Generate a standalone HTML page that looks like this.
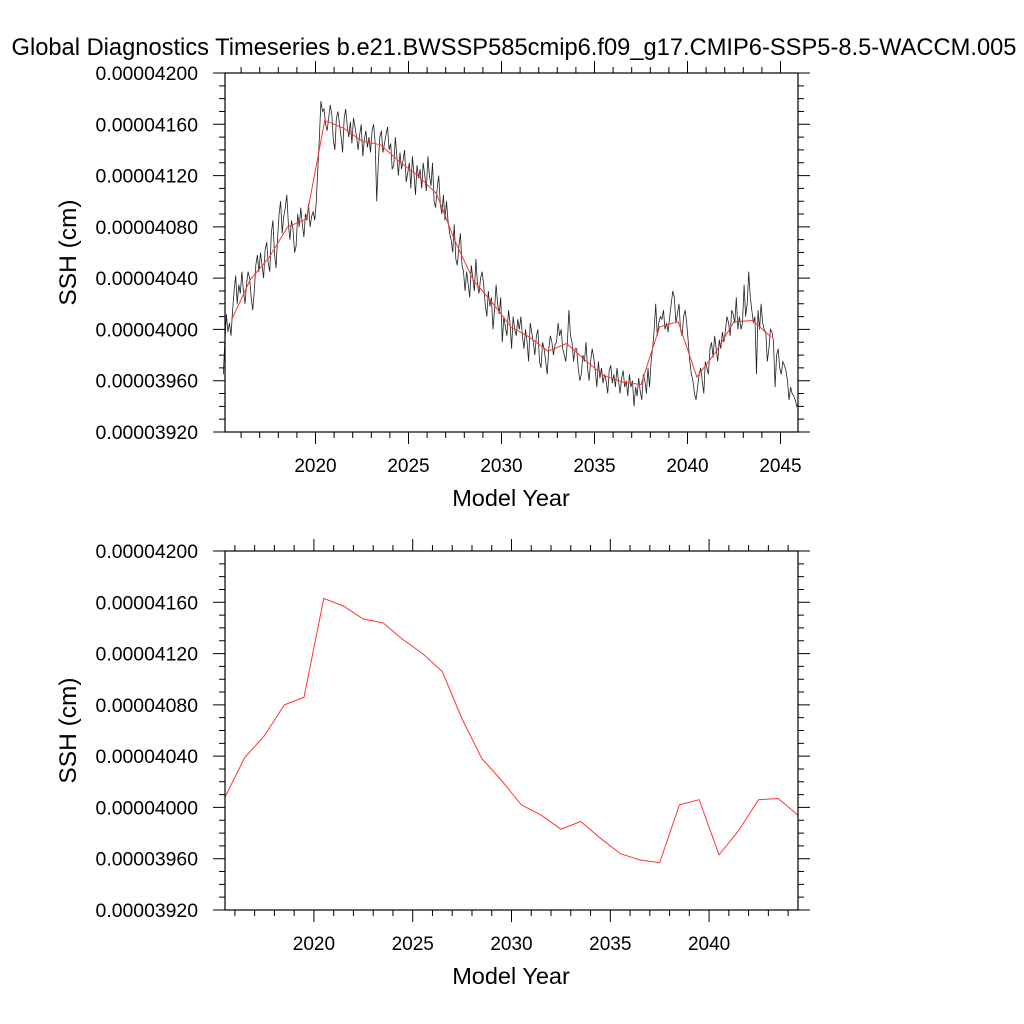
<!DOCTYPE html>
<html><head><meta charset="utf-8"><style>
html,body{margin:0;padding:0;background:#fff;}
svg{display:block;font-family:"Liberation Sans",Arial,sans-serif;}
</style></head><body>
<svg id="c" width="1024" height="1024" viewBox="0 0 1024 1024">
<text x="514" y="55" text-anchor="middle" font-size="23.7">Global Diagnostics Timeseries b.e21.BWSSP585cmip6.f09_g17.CMIP6-SSP5-8.5-WACCM.005</text>
</svg>
<script>
const annualYears = [];
for (let y = 2015; y <= 2044; y++) annualYears.push(y + 0.5);
const annualValues = [4008,4039,4056,4080,4086,4163,4157,4147,4144,4131,4120,4106,4069,4038,4021,4002,3994,3983,3989,3976,3964,3959,3957,4002,4006,3963,3982,4006,4007,3994];
const monthlyValues = [
3965,3990,4012,3998,4005,3995,4015,4030,4042,4020,4035,4028,
4045,4030,4020,4035,4045,4040,4025,4015,4030,4050,4058,4045,
4060,4050,4040,4062,4068,4052,4045,4075,4085,4060,4048,4070,
4090,4100,4075,4088,4095,4105,4082,4070,4085,4078,4060,4065,
4090,4080,4095,4082,4072,4090,4085,4098,4080,4088,4092,4085,
4100,4125,4150,4178,4170,4172,4160,4155,4165,4175,4168,4148,
4140,4165,4170,4160,4150,4138,4165,4172,4158,4150,4162,4145,
4165,4158,4150,4140,4152,4160,4135,4148,4155,4142,4150,4138,
4155,4160,4145,4100,4130,4150,4155,4138,4145,4152,4158,4140,
4145,4125,4128,4150,4135,4120,4138,4125,4132,4140,4115,4122,
4130,4110,4135,4122,4105,4128,4118,4125,4110,4130,4120,4108,
4135,4120,4112,4130,4100,4095,4110,4120,4098,4090,4105,4085,
4100,4085,4075,4070,4060,4082,4055,4050,4065,4075,4050,4045,
4030,4045,4035,4025,4050,4040,4030,4055,4035,4028,4040,4045,
4035,4020,4010,4030,4018,4025,4000,4015,4035,4020,4012,4025,
3990,4010,4002,3995,4015,4005,3985,4010,4000,3995,4008,4000,
4010,3995,3985,4000,3990,3975,4005,3998,3990,3980,3995,4000,
3975,3970,3990,3985,3975,3965,3985,3995,3990,3980,3988,3990,
4005,3995,4000,3985,3980,3975,3990,4015,3995,3990,3975,3985,
3985,3970,3960,3965,3980,3975,3990,3970,3960,3975,3985,3978,
3968,3955,3975,3962,3970,3958,3965,3960,3950,3968,3972,3958,
3965,3955,3970,3960,3950,3962,3968,3955,3960,3948,3965,3955,
3960,3940,3955,3948,3962,3952,3945,3965,3960,3950,3970,3955,
3975,3985,4000,4020,3995,4005,4010,4008,4015,4000,4005,3998,
4010,4020,4030,4025,4005,4012,4020,4000,3995,4010,4015,4005,
3990,3975,3965,3960,3950,3945,3955,3965,3970,3960,3950,3975,
3970,3965,3985,3990,3978,3995,3985,3975,3992,3985,3998,3990,
4000,4010,4005,3995,4015,4012,4005,4025,4000,4010,4000,4005,
4035,4010,4020,4045,4025,4015,4005,4010,3965,4015,4000,4020,
4005,4000,3998,3975,3985,4000,3998,3990,3955,3980,3985,3970,
3965,3975,3972,3968,3960,3945,3955,3950,3948,3945,3940,3942];
const yTickValues = [3920,3960,4000,4040,4080,4120,4160,4200];
const yTickLabels = ["0.00003920","0.00003960","0.00004000","0.00004040","0.00004080","0.00004120","0.00004160","0.00004200"];
const xTickYears = [2020,2025,2030,2035,2040,2045];

const NS = "http://www.w3.org/2000/svg";
const svg = document.getElementById('c');
function mk(tag, attrs, parent) {
  const e = document.createElementNS(NS, tag);
  for (const k in attrs) e.setAttribute(k, attrs[k]);
  (parent || svg).appendChild(e);
  return e;
}

function panel(top, x0yr, pxPerYr, xMaxYr, name) {
  const L = 225, R = 798, T = top, B = top + 359;
  const g = mk('g', {});
  
  
  const xs = yr => L + (yr - x0yr) * pxPerYr;
  const ys = v => B - (v - 3920) * 359 / 280;
  let d = '';
  for (let v = 3920; v <= 4200; v += 10) {
    const len = (v % 40 === 0) ? 12 : 6;
    const y = ys(v);
    d += `M${L} ${y}H${L - len}M${R} ${y}H${R + len}`;
  }
  for (let yr = 2015; yr <= xMaxYr; yr++) {
    const x = xs(yr);
    if (x < L - 0.5 || x > R + 0.5) continue;
    const len = (yr % 5 === 0) ? 12 : 6;
    d += `M${x} ${B}V${B + len}M${x} ${T}V${T - len}`;
  }
  const tk = mk('path', {d: d, stroke: '#000', 'stroke-width': 1, fill: 'none'}, g);
  
  
  yTickValues.forEach((v, i) => {
    const t = mk('text', {x: 198, y: ys(v) + 7, 'text-anchor': 'end', 'font-size': 19.4}, g);
    t.textContent = yTickLabels[i];
    
    
  });
  xTickYears.forEach(yr => {
    const x = xs(yr);
    if (x < L - 0.5 || x > R + 0.5) return;
    const t = mk('text', {x: x, y: B + 40, 'text-anchor': 'middle', 'font-size': 19}, g);
    t.textContent = yr;
    
    
  });
  const xt = mk('text', {x: 511, y: B + 74, 'text-anchor': 'middle', 'font-size': 23.5}, g);
  xt.textContent = 'Model Year';
  
  
  const cy = (T + B) / 2;
  const yt = mk('text', {x: 76, y: cy, 'text-anchor': 'middle', 'font-size': 24.5, transform: `rotate(-90 76 ${cy})`}, g);
  yt.textContent = 'SSH (cm)';
  
  
  return {g, xs, ys, L, R, T, B};
}

function frame(p) {
  const f = mk('rect', {x: p.L, y: p.T, width: p.R - p.L, height: p.B - p.T, fill: 'none', stroke: '#000', 'stroke-width': 1.2}, p.g);
  
  
}

const p1 = panel(73, 2015 + (225 - 222.5) / 18.6, 18.6, 2046, 'top-panel');
let dm = '';
monthlyValues.forEach((v, i) => {
  const x = p1.xs(2015 + (i + 0.5) / 12);
  dm += (i ? 'L' : 'M') + x.toFixed(1) + ' ' + p1.ys(v).toFixed(1);
});
const ml = mk('path', {d: dm, stroke: '#222', 'stroke-width': 0.8, fill: 'none'}, p1.g);


let da = '';
annualValues.forEach((v, i) => {
  da += (i ? 'L' : 'M') + p1.xs(annualYears[i]).toFixed(1) + ' ' + p1.ys(v).toFixed(1);
});
const al = mk('path', {d: da, stroke: '#f33', 'stroke-width': 1, fill: 'none'}, p1.g);


frame(p1);

const p2 = panel(551, 2015.5, 573 / 29, 2044, 'bottom-panel');
let db = '';
annualValues.forEach((v, i) => {
  db += (i ? 'L' : 'M') + p2.xs(annualYears[i]).toFixed(1) + ' ' + p2.ys(v).toFixed(1);
});
const bl = mk('path', {d: db, stroke: '#f33', 'stroke-width': 1, fill: 'none'}, p2.g);


frame(p2);
</script>
</body></html>
